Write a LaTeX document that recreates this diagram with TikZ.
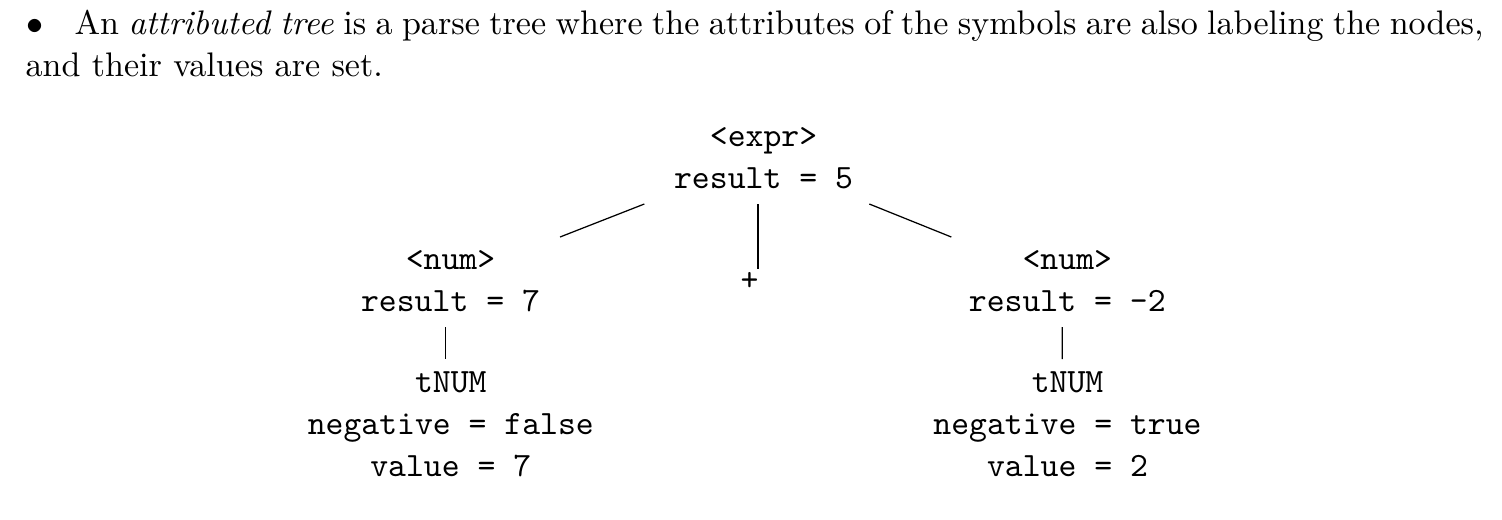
\documentclass[tikz,border=0pt]{standalone}
\newcommand{\treelabel}[1]{\vtop{\halign{\hfil##\hfil\cr#1\crcr}}}
\tikzset{
  body/.style={inner sep=0pt, font=\fontsize{10.95pt}{13.6pt}\selectfont},
  tnode/.style={inner sep=0pt, anchor=base, font=\fontsize{10.95pt}{13.6pt}\selectfont\ttfamily},
  edge/.style={line width=0.4pt},
}
\begin{document}
\begin{tikzpicture}[x=0.3215pt, y=-0.3215pt]
\useasboundingbox (0,0) rectangle (1502,519);
% text
\node[body, anchor=base] (bul) at (34.7,34.3) {$\bullet$};
\node[body, anchor=base west] (line1) at (74,34.3) {\makebox[453pt][s]{An \textit{attributed tree} is a parse tree where the attributes of the symbols are also labeling the nodes,}};
\node[body, anchor=base west] (line2) at (25,76.7) {and their values are set.};
% tree nodes
\node[tnode] (root) at (763.5,146) {\treelabel{<expr>\cr result = 5}};
\node[tnode] (left) at (450.5,269.3) {\treelabel{<num>\cr result = 7}};
\node[tnode] (plus) at (749.5,290.5) {+};
\node[tnode] (right) at (1067.3,269.3) {\treelabel{<num>\cr result = -2}};
\node[tnode] (ltnum) at (450.8,392.3) {\treelabel{tNUM\cr negative = false\cr value = 7}};
\node[tnode] (rtnum) at (1067.5,392) {\treelabel{tNUM\cr negative = true\cr value = 2}};
% edges
\draw[edge] ([shift={(-119.2,58)}]root.base) -- ([shift={(109.5,-32.3)}]left.base);
\draw[edge] ([shift={(-5.5,58)}]root.base) -- ([shift={(8.5,-21.5)}]plus.base);
\draw[edge] ([shift={(105.8,58)}]root.base) -- ([shift={(-116,-32.3)}]right.base);
\draw[edge] ([shift={(-4.8,57.7)}]left.base) -- ([shift={(-5.1,-33.3)}]ltnum.base);
\draw[edge] ([shift={(-5,57.7)}]right.base) -- ([shift={(-5.2,-33)}]rtnum.base);
\end{tikzpicture}
\end{document}
